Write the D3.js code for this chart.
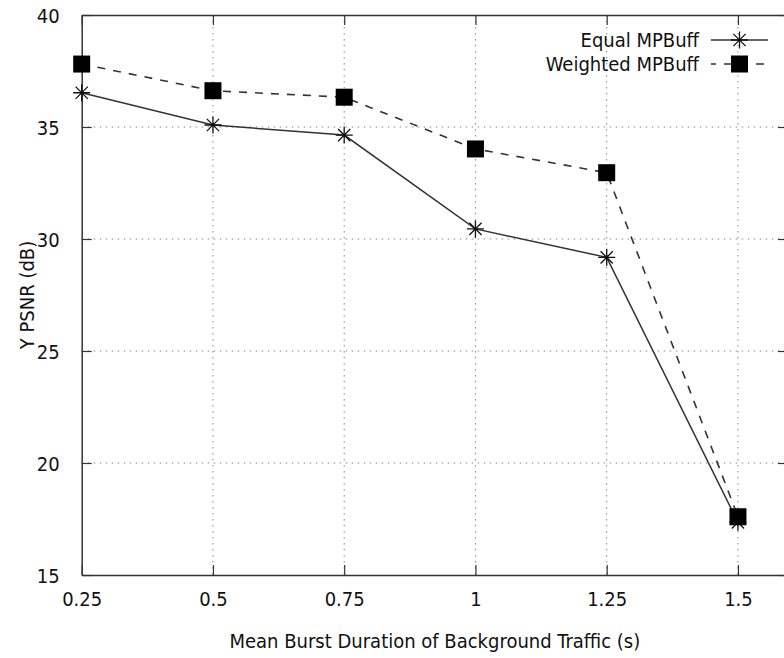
<!DOCTYPE html>
<html>
<head>
<meta charset="utf-8">
<script src="https://cdn.jsdelivr.net/npm/d3@7"></script>
<style>
  body { margin: 0; background: #fff; }
  svg { display: block; font-family: "DejaVu Sans Condensed", "DejaVu Sans", sans-serif; }
</style>
</head>
<body>
<svg id="chart" width="784" height="658"></svg>
<script>
var durations = [0.25, 0.5, 0.75, 1, 1.25, 1.5];
var equalMP = [36.53, 35.09, 34.64, 30.45, 29.18, 17.35];
var weightedMP = [37.81, 36.62, 36.33, 34.02, 32.96, 17.6];
var xTicks = [0.25, 0.5, 0.75, 1, 1.25, 1.5];
var xTickLabels = ["0.25", "0.5", "0.75", "1", "1.25", "1.5"];
var yTicks = [15, 20, 25, 30, 35, 40];
var seriesNames = ["Equal MPBuff", "Weighted MPBuff"];

var svg = d3.select("#chart"),
    pLeft = 81.7, pRight = 788, pTop = 15, pBottom = 575,
    fontFam = "DejaVu Sans Condensed, DejaVu Sans, sans-serif";

// x domain runs past 1.5, the right edge is off the picture
var x = d3.scaleLinear().domain([0.25, 0.25 + (pRight - pLeft) / 525]).range([pLeft, pRight]);
var y = d3.scaleLinear().domain([15, 40]).range([pBottom, pTop]);

var ink = "#333";

// grid
var grid = svg.append("g").attr("stroke", "#888").attr("stroke-dasharray", "1.5,4.5").attr("stroke-width", 1);
grid.selectAll(".gx").data(xTicks.filter(function(d) { return d > 0.25; }))
  .enter().append("line")
  .attr("x1", function(d) { return x(d); }).attr("x2", function(d) { return x(d); })
  .attr("y1", pTop).attr("y2", pBottom);
grid.selectAll(".gy").data(yTicks.filter(function(d) { return d > 15 && d < 40; }))
  .enter().append("line")
  .attr("x1", pLeft).attr("x2", pRight)
  .attr("y1", function(d) { return y(d); }).attr("y2", function(d) { return y(d); });

// axes: ticks inward, mirrored on top / right
var xb = svg.append("g").attr("transform", "translate(0," + pBottom + ")")
  .call(d3.axisBottom(x).tickValues(xTicks)
    .tickSizeInner(-10).tickSizeOuter(0).tickPadding(17)
    .tickFormat(function(d, i) { return xTickLabels[i]; }));
var xt = svg.append("g").attr("transform", "translate(0," + pTop + ")")
  .call(d3.axisTop(x).tickValues(xTicks).tickSizeInner(-10).tickSizeOuter(0).tickFormat(""));
var yl = svg.append("g").attr("transform", "translate(" + pLeft + ",0)")
  .call(d3.axisLeft(y).tickValues(yTicks).tickSizeInner(-10).tickSizeOuter(0).tickPadding(22));
var yr = svg.append("g").attr("transform", "translate(" + pRight + ",0)")
  .call(d3.axisRight(y).tickValues(yTicks).tickSizeInner(-10).tickSizeOuter(0).tickFormat(""));

[xb, xt, yl, yr].forEach(function(g) {
  g.select(".domain").attr("stroke", ink).attr("stroke-width", 1.5);
  g.selectAll(".tick line").attr("stroke", ink).attr("stroke-width", 1.2);
  g.selectAll("text").attr("fill", "#111").style("font-size", "20px").style("font-family", fontFam);
});
xb.selectAll("text").attr("dy", "0.71em");
yl.selectAll(".tick text").attr("dy", "0.36em");

// axis titles
svg.append("text")
  .attr("x", (pLeft + pRight) / 2).attr("y", 648)
  .attr("text-anchor", "middle")
  .style("font-size", "20px").style("font-family", fontFam)
  .attr("fill", "#111")
  .text("Mean Burst Duration of Background Traffic (s)");
svg.append("text")
  .attr("transform", "translate(34," + (pTop + pBottom) / 2 + ") rotate(-90)")
  .attr("text-anchor", "middle")
  .style("font-size", "20px").style("font-family", fontFam)
  .attr("fill", "#111")
  .text("Y PSNR (dB)");

function star(g, cx, cy, r) {
  var d = r * 0.72;
  g.append("path")
    .attr("d", "M" + (cx - r) + "," + cy + "H" + (cx + r) +
      "M" + cx + "," + (cy - r) + "V" + (cy + r) +
      "M" + (cx - d) + "," + (cy - d) + "L" + (cx + d) + "," + (cy + d) +
      "M" + (cx - d) + "," + (cy + d) + "L" + (cx + d) + "," + (cy - d))
    .attr("stroke", "#111").attr("stroke-width", 1.3).attr("fill", "none");
}
function square(g, cx, cy, r) {
  g.append("rect").attr("x", cx - r).attr("y", cy - r)
    .attr("width", 2 * r).attr("height", 2 * r).attr("fill", "#000");
}

var line = d3.line()
  .x(function(d, i) { return x(durations[i]); })
  .y(function(d) { return y(d); });

var plot = svg.append("g");
plot.append("path").datum(weightedMP).attr("d", line)
  .attr("fill", "none").attr("stroke", ink).attr("stroke-width", 1.6).attr("stroke-dasharray", "8,8");
plot.append("path").datum(equalMP).attr("d", line)
  .attr("fill", "none").attr("stroke", ink).attr("stroke-width", 1.5);

equalMP.forEach(function(v, i) { star(plot, x(durations[i]), y(v), 8.5); });
weightedMP.forEach(function(v, i) { square(plot, x(durations[i]), y(v), 8.5); });

// legend
var leg = svg.append("g");
var legY = [40, 64];
seriesNames.forEach(function(name, i) {
  leg.append("text").attr("x", 699).attr("y", legY[i]).attr("dy", "0.36em")
    .attr("text-anchor", "end")
    .style("font-size", "20px").style("font-family", fontFam)
    .attr("fill", "#111").text(name);
  leg.append("line").attr("x1", 711).attr("x2", 768).attr("y1", legY[i]).attr("y2", legY[i])
    .attr("stroke", ink).attr("stroke-width", 1.5)
    .attr("stroke-dasharray", i === 1 ? "8,8" : null)
    .attr("stroke-dashoffset", i === 1 ? 3 : null);
});
star(leg, 739.5, legY[0], 8.5);
square(leg, 739.5, legY[1], 8.5);
</script>
</body>
</html>
